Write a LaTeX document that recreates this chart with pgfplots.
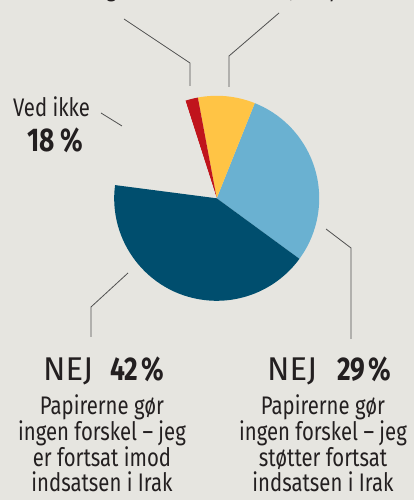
\documentclass[border=0pt]{standalone}
\usepackage{fontspec}
\setmainfont{Fira Sans}[FakeStretch=0.8]
\newfontfamily\widefont{Fira Sans}[FakeStretch=1.0]
\usepackage{etoolbox}
\usepackage{pgfplots}
\usepackage{pgfplotstable}
\pgfplotsset{compat=1.18}

\definecolor{bgcol}{RGB}{230,229,224}
\definecolor{darkb}{RGB}{0,78,110}
\definecolor{lightb}{RGB}{106,177,209}
\definecolor{yell}{RGB}{255,196,69}
\definecolor{redc}{RGB}{192,20,28}
\definecolor{txt}{RGB}{35,31,32}
\definecolor{lead}{RGB}{80,80,80}

% shares in percent, counterclockwise from the start angle; the "Ved ikke" share is left blank
\pgfplotstableread{
share col
29 lightb
9 yell
2 redc
18 bgcol
42 darkb
}\piedata

\def\piecmds{}
\def\cur{-36.2}
\pgfplotsforeachungrouped \i in {0,...,4}{%
  \pgfplotstablegetelem{\i}{share}\of\piedata \let\pshare\pgfplotsretval
  \pgfplotstablegetelem{\i}{col}\of\piedata \let\pcol\pgfplotsretval
  \pgfmathsetmacro\nxt{\cur+3.6*\pshare}%
  \eappto\piecmds{\noexpand\fill[\pcol] (axis cs:216.7,301.7) -- ++(\cur:102.5bp)
    arc[start angle=\cur, end angle=\nxt, radius=102.5bp] -- cycle;}%
  \let\cur\nxt
}

\newcommand{\body}{\fontsize{25.5}{26}\selectfont}
\newcommand{\head}{\fontsize{33}{34}\selectfont}

\begin{document}
\begin{tikzpicture}
\begin{axis}[x=1bp, y=1bp, xmin=0, xmax=414, ymin=0, ymax=500,
    hide axis, clip=false]
  \fill[bgcol] (axis cs:0,0) rectangle (axis cs:414,500);
  \coordinate (bl) at (axis cs:0,0);
  \coordinate (tr) at (axis cs:414,500);
  \piecmds
  % leader lines
  \draw[lead, line width=0.8bp] (axis cs:124,481) -- (axis cs:190,437) -- (axis cs:190,414);
  \draw[lead, line width=0.8bp] (axis cs:279,487) -- (axis cs:229,444) -- (axis cs:229,413);
  \draw[lead, line width=0.8bp] (axis cs:101,387) -- (axis cs:122,374);
  \draw[lead, line width=0.8bp] (axis cs:326,271) -- (axis cs:351,252) -- (axis cs:351,161);
  \draw[lead, line width=0.8bp] (axis cs:128,227) -- (axis cs:91,193) -- (axis cs:91,163);
  % labels cut off by the top edge
  \node[txt, anchor=base east, inner sep=0, font=\body] at (axis cs:117,503) {ændrer mening};
  \node[txt, anchor=base east, inner sep=0, font=\body] at (axis cs:352,503) {Irak, nu på};
  % Ved ikke
  \node[txt, anchor=base west, inner sep=0, font=\body] at (axis cs:13,383) {Ved ikke};
  \node[txt, anchor=base west, inner sep=0, font=\head\bfseries] at (axis cs:27,348) {18\,\%};
  % NEJ 42 %
  \node[txt, anchor=base west, inner sep=0, font=\head\widefont] at (axis cs:43,119) {NEJ};
  \node[txt, anchor=base west, inner sep=0, font=\head\bfseries] at (axis cs:110,119) {42\hspace{3bp}\%};
  \node[txt, anchor=base, inner sep=0, font=\body] at (axis cs:102,85) {Papirerne gør};
  \node[txt, anchor=base, inner sep=0, font=\body] at (axis cs:102,59) {ingen forskel – jeg};
  \node[txt, anchor=base, inner sep=0, font=\body] at (axis cs:102,33) {er fortsat imod};
  \node[txt, anchor=base, inner sep=0, font=\body] at (axis cs:102,8) {indsatsen i Irak};
  % NEJ 29 %
  \node[txt, anchor=base west, inner sep=0, font=\head\widefont] at (axis cs:267,119) {NEJ};
  \node[txt, anchor=base west, inner sep=0, font=\head\bfseries] at (axis cs:337,119) {29\hspace{3bp}\%};
  \node[txt, anchor=base, inner sep=0, font=\body] at (axis cs:323,85) {Papirerne gør};
  \node[txt, anchor=base, inner sep=0, font=\body] at (axis cs:323,59) {ingen forskel – jeg};
  \node[txt, anchor=base, inner sep=0, font=\body] at (axis cs:323,33) {støtter fortsat};
  \node[txt, anchor=base, inner sep=0, font=\body] at (axis cs:323,8) {indsatsen i Irak};
\end{axis}
\pgfresetboundingbox
\useasboundingbox (bl) rectangle (tr);
\end{tikzpicture}
\end{document}
